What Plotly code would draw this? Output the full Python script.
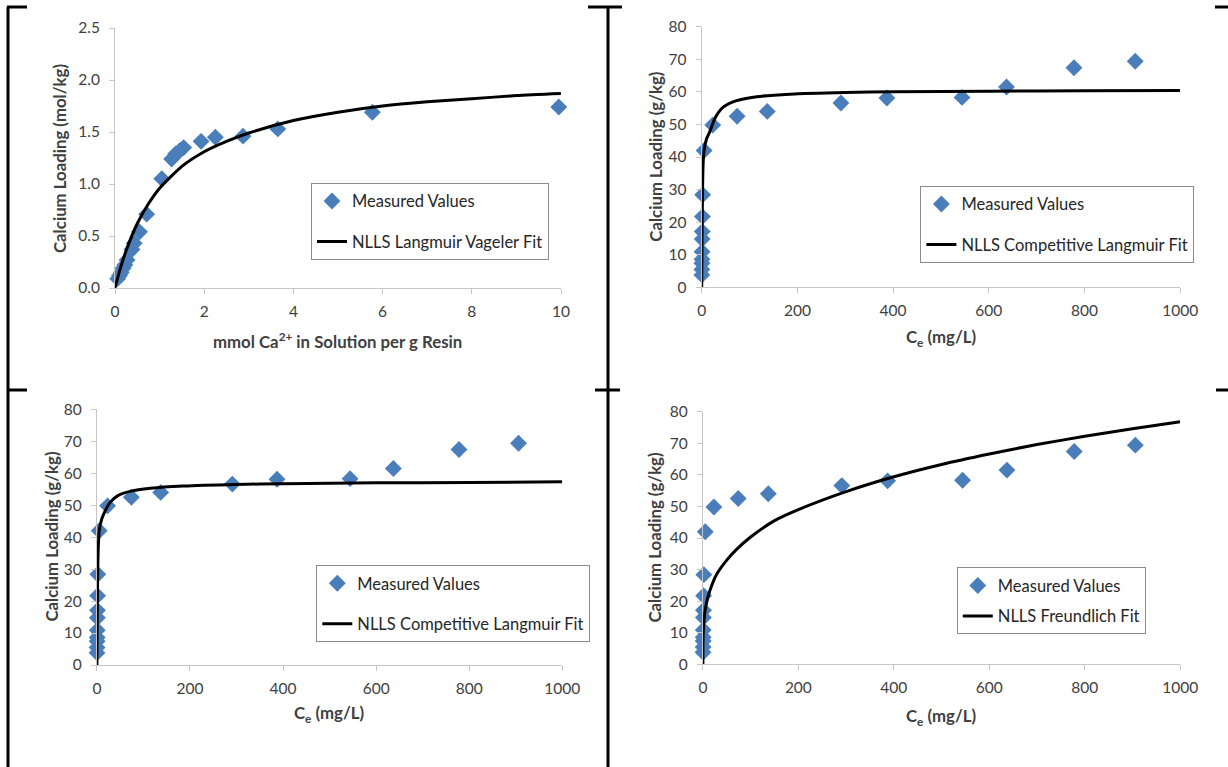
import plotly.graph_objects as go

W, H = 1228, 767

# ---------------- data ----------------
# Panel 1: Langmuir Vageler
p1_x = [0.06, 0.10, 0.14, 0.18, 0.22, 0.27, 0.38, 0.43, 0.55, 0.71, 1.05, 1.27, 1.36, 1.45, 1.54, 1.93, 2.25, 2.87, 3.65, 5.77, 9.95]
p1_y = [0.09, 0.12, 0.15, 0.19, 0.22, 0.27, 0.37, 0.43, 0.54, 0.71, 1.05, 1.24, 1.29, 1.32, 1.35, 1.41, 1.45, 1.46, 1.53, 1.69, 1.74]
fit1_x = [0, 0.1, 0.25, 0.5, 0.75, 1, 1.5, 2, 2.5, 3, 4, 5, 6, 7, 8, 9, 10]
fit1_y = [0, 0.16, 0.36, 0.62, 0.81, 0.96, 1.17, 1.31, 1.41, 1.49, 1.61, 1.69, 1.75, 1.79, 1.82, 1.85, 1.87]

# Panels 2-4: measured equilibrium data (same in each)
ce = [0.3, 0.4, 0.5, 0.6, 0.8, 1.0, 1.2, 1.5, 2.0, 5, 23, 74, 137, 291, 387, 544, 637, 778, 906]
q = [3.8, 5.5, 7.4, 8.6, 10.9, 14.8, 17.1, 21.7, 28.4, 42.0, 49.8, 52.5, 54.0, 56.6, 58.1, 58.3, 61.5, 67.4, 69.4]

fit2_x = [0, 0.5, 1, 2, 3, 5, 10, 17, 28, 45, 73, 115, 185, 300, 400, 600, 800, 1000]
fit2_y = [0, 10, 20, 32, 38, 42, 45.5, 47.8, 52.0, 55.3, 57.3, 58.5, 59.3, 59.8, 60.0, 60.2, 60.3, 60.4]

fit3_x = [0, 0.5, 1, 2, 3, 5, 10, 17, 28, 45, 73, 115, 185, 300, 400, 600, 800, 1000]
fit3_y = [0, 10, 20, 31, 37, 42, 45.5, 48.0, 50.8, 53.0, 54.4, 55.3, 56.0, 56.5, 56.7, 57.0, 57.1, 57.3]

fit4_x = [0, 0.1, 1, 5, 10, 20, 30, 50, 70, 100, 150, 200, 300, 400, 500, 600, 700, 800, 900, 1000]
fit4_y = [0, 5.8, 11.0, 17.4, 21.0, 25.6, 28.8, 33.0, 36.3, 40.3, 45.5, 49.0, 54.7, 59.4, 63.3, 66.6, 69.6, 72.2, 74.6, 76.8]

legend_names = [
    ("Measured Values", "NLLS Langmuir Vageler Fit"),
    ("Measured Values", "NLLS Competitive Langmuir Fit"),
    ("Measured Values", "NLLS Competitive Langmuir Fit"),
    ("Measured Values", "NLLS Freundlich Fit"),
]

# ---------------- styles ----------------
FONT = "Lato, 'Open Sans', sans-serif"
TXT = "#404040"
AX = "#c6c6c6"
BLUE = "#4a7ebb"
TICK_SIZE = 15.5
TITLE_SIZE = 16.8
LEG_SIZE = 16.5


def px_x(p):
    return p / W


def px_y(p):
    return 1 - p / H


# plot areas in pixels: (x0, x1, ytop, ybottom)
areas = [
    (115.0, 561.0, 28.0, 288.0),
    (701.7, 1180.2, 26.7, 287.3),
    (96.9, 562.3, 409.3, 665.0),
    (702.9, 1180.2, 411.7, 664.3),
]
legend_pos = [(311, 182.7), (920.4, 185.7), (316.3, 565.0), (956.8, 567.3)]
legend_gap = [16, 16, 16, 6]

data_sets = [
    (p1_x, p1_y, fit1_x, fit1_y),
    (ce, q, fit2_x, fit2_y),
    (ce, q, fit3_x, fit3_y),
    (ce, q, fit4_x, fit4_y),
]

fig = go.Figure()
layout = dict(
    width=W, height=H,
    margin=dict(l=0, r=0, t=0, b=0, pad=0, autoexpand=False),
    paper_bgcolor="white", plot_bgcolor="white",
    font=dict(family=FONT, size=15, color=TXT),
    showlegend=True,
)

for i, (mx, my, fx, fy) in enumerate(data_sets):
    n = i + 1
    sfx = "" if n == 1 else str(n)
    leg = "legend" if n == 1 else f"legend{n}"
    fig.add_trace(go.Scatter(
        x=mx, y=my, mode="markers", name=legend_names[i][0],
        marker=dict(symbol="diamond", size=13, color=BLUE),
        xaxis="x" + sfx, yaxis="y" + sfx, legend=leg,
        legendgroup=f"m{n}", cliponaxis=False,
    ))
    fig.add_trace(go.Scatter(
        x=fx, y=fy, mode="lines", name=legend_names[i][1],
        line=dict(color="black", width=3, shape="spline", smoothing=0.6),
        xaxis="x" + sfx, yaxis="y" + sfx, legend=leg,
        legendgroup=f"f{n}", cliponaxis=False,
    ))
    x0, x1, yt, yb = areas[i]
    common = dict(showline=True, linecolor=AX, linewidth=1, ticks="outside",
                  ticklen=5, tickcolor=AX, showgrid=False, zeroline=False,
                  automargin=False,
                  tickfont=dict(family=FONT, size=TICK_SIZE, color=TXT))
    if n == 1:
        xa = dict(range=[0, 10], dtick=2, tick0=0, **common)
        ya = dict(range=[0, 2.5], dtick=0.5, tick0=0, tickformat=".1f", **common)
    else:
        xa = dict(range=[0, 1000], dtick=200, tick0=0, **common)
        ya = dict(range=[0, 80], dtick=10, tick0=0, **common)
    xa.update(domain=[px_x(x0), px_x(x1)], anchor="y" + sfx, ticklabelstandoff=4)
    ya.update(domain=[px_y(yb), px_y(yt)], anchor="x" + sfx, ticklabelstandoff=6)
    layout["xaxis" + sfx] = xa
    layout["yaxis" + sfx] = ya
    lx, ly = legend_pos[i]
    layout[leg] = dict(
        x=px_x(lx), y=px_y(ly), xanchor="left", yanchor="top",
        xref="paper", yref="paper",
        bordercolor="#8c8c8c", borderwidth=1, bgcolor="white",
        font=dict(family=FONT, size=LEG_SIZE, color="#262626"),
        tracegroupgap=legend_gap[i], traceorder="grouped",
    )

fig.update_layout(**layout)

# axis titles as annotations
ann = []
xt = [("mmol Ca<sup>2+</sup> in Solution per g Resin", 337.7, 340),
      ("C<sub>e</sub> (mg/L)", 940.8, 338),
      ("C<sub>e</sub> (mg/L)", 329.0, 714),
      ("C<sub>e</sub> (mg/L)", 941.5, 717)]
yt_ = [("Calcium Loading (mol/kg)", 59, 159),
       ("Calcium Loading (g/kg)", 654.7, 157),
       ("Calcium Loading (g/kg)", 50.6, 537),
       ("Calcium Loading (g/kg)", 653.5, 538)]
for t, x, y in xt:
    ann.append(dict(text=f"<b>{t}</b>", x=px_x(x), y=px_y(y), xref="paper", yref="paper",
                    showarrow=False, xanchor="center", yanchor="middle",
                    font=dict(family=FONT, size=TITLE_SIZE, color=TXT)))
for t, x, y in yt_:
    ann.append(dict(text=f"<b>{t}</b>", x=px_x(x), y=px_y(y), xref="paper", yref="paper",
                    showarrow=False, xanchor="center", yanchor="middle", textangle=-90,
                    font=dict(family=FONT, size=TITLE_SIZE, color=TXT)))
fig.update_layout(annotations=ann)

# table border fragments
shapes = []
segs = [
    (8, 7, 8, 767), (608, 7, 608, 767),
    (7, 7, 27, 7), (588, 7, 622, 7), (1215, 7, 1228, 7),
    (7, 390, 27, 390), (595, 390, 620, 390), (1216, 390, 1228, 390),
]
for a, b, c, d in segs:
    shapes.append(dict(type="line", xref="paper", yref="paper",
                       x0=px_x(a), y0=px_y(b), x1=px_x(c), y1=px_y(d),
                       line=dict(color="black", width=3)))
fig.update_layout(shapes=shapes)

fig.write_html(
    "out.html",
    config={"displayModeBar": False},
    post_script="document.body.style.margin='0';document.body.style.overflow='hidden';",
)
